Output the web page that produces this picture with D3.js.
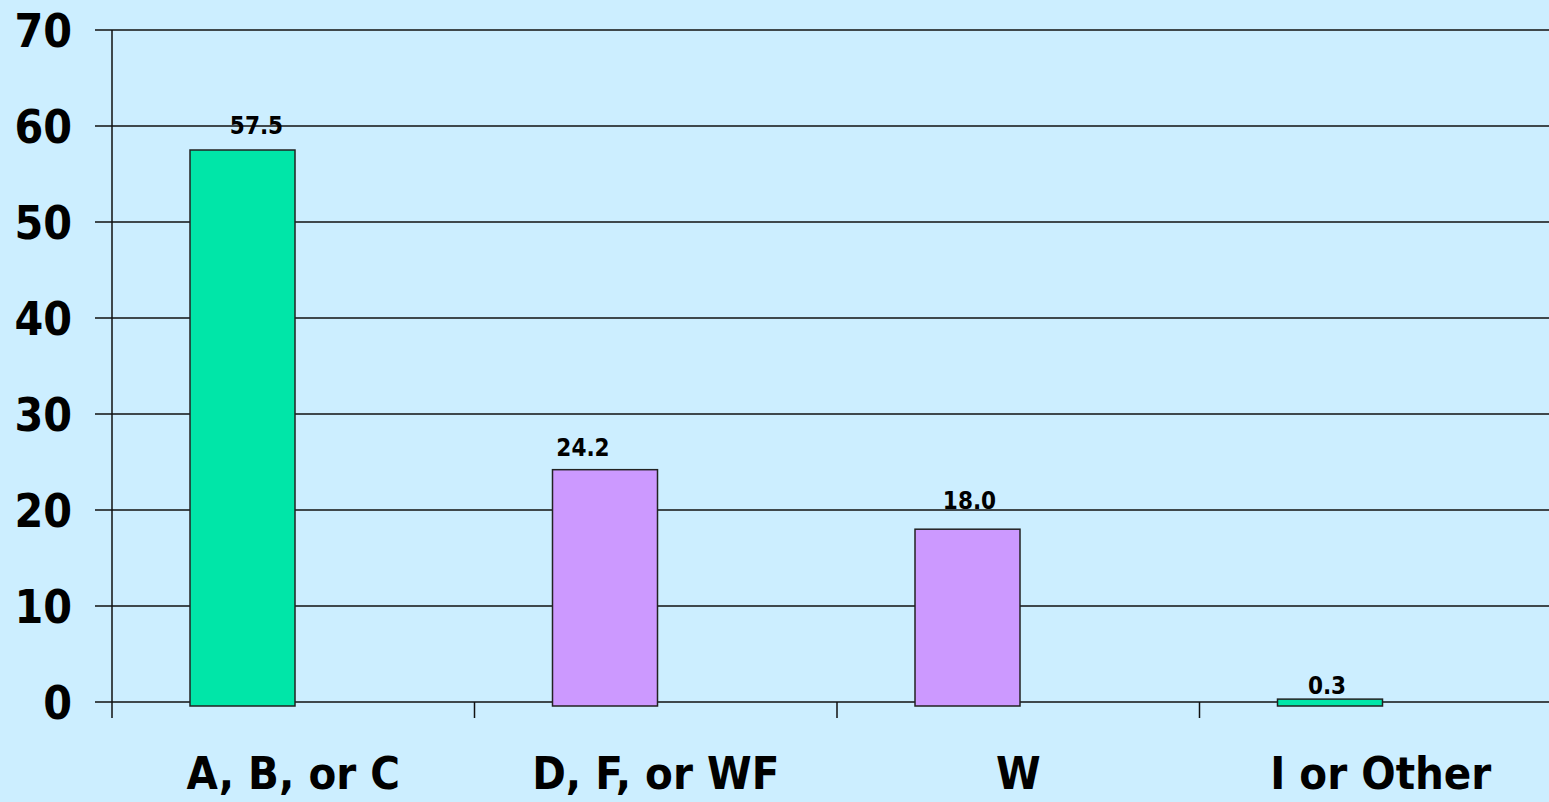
<!DOCTYPE html>
<html>
<head>
<meta charset="utf-8">
<script src="https://cdn.jsdelivr.net/npm/d3@7"></script>
<style>
  html, body { margin: 0; padding: 0; background: #cceeff; }
  svg { display: block; }
  text { font-family: "DejaVu Sans Condensed", "DejaVu Sans", Verdana, sans-serif; font-weight: bold; }
</style>
</head>
<body>
<div id="chart"></div>
<script>
// data
var categories = ["A, B, or C", "D, F, or WF", "W", "I or Other"]
var values = [57.5, 24.2, 18.0, 0.3]
var valueLabels = ["57.5", "24.2", "18.0", "0.3"]
var barColors = ["#00e6a8", "#cc99ff", "#cc99ff", "#00e6a8"]
var yTicks = [0, 10, 20, 30, 40, 50, 60, 70]

// label nudges as in the original slide
var labelDx = [14, -22, 2, -3]
var labelDy = [-16, -14, -20, -5]

var width = 1549
var height = 802

var svg = d3.select("#chart")
    .append("svg")
    .attr("width", width)
    .attr("height", height)

svg.append("rect")
    .attr("width", width)
    .attr("height", height)
    .attr("fill", "#cceeff")

var x = d3.scaleBand()
    .domain(categories)
    .range([112, 1562])
    .paddingInner(0)
    .paddingOuter(0)

var y = d3.scaleLinear()
    .domain([0, 70])
    .range([702, 30])

var barOffset = 78
var barWidth = 105

// gridlines
svg.append("g")
    .selectAll("line")
    .data(yTicks)
    .enter()
    .append("line")
    .attr("x1", 95)
    .attr("x2", width)
    .attr("y1", function(d) { return y(d) })
    .attr("y2", function(d) { return y(d) })
    .attr("stroke", "#111")
    .attr("stroke-width", 1.5)

// y axis line
svg.append("line")
    .attr("x1", 112).attr("x2", 112)
    .attr("y1", y(70)).attr("y2", y(0) + 16)
    .attr("stroke", "#111")
    .attr("stroke-width", 1.5)

// category ticks
svg.append("g")
    .selectAll("line")
    .data(categories.slice(1))
    .enter()
    .append("line")
    .attr("x1", function(d) { return x(d) })
    .attr("x2", function(d) { return x(d) })
    .attr("y1", y(0))
    .attr("y2", y(0) + 16)
    .attr("stroke", "#111")
    .attr("stroke-width", 1.5)

// y tick labels
svg.append("g")
    .selectAll("text")
    .data(yTicks)
    .enter()
    .append("text")
    .attr("x", 72)
    .attr("y", function(d) { return y(d) })
    .attr("dy", "0.36em")
    .attr("text-anchor", "end")
    .attr("font-size", 46)
    .attr("fill", "#000")
    .text(function(d) { return d })

// bars
svg.append("g")
    .selectAll("rect")
    .data(values)
    .enter()
    .append("rect")
    .attr("x", function(d, i) { return x(categories[i]) + barOffset })
    .attr("width", barWidth)
    .attr("y", function(d) { return y(d) })
    .attr("height", function(d) { return y(0) - y(d) + 4 })
    .attr("fill", function(d, i) { return barColors[i] })
    .attr("stroke", "#222")
    .attr("stroke-width", 1.5)

// value labels
svg.append("g")
    .selectAll("text")
    .data(values)
    .enter()
    .append("text")
    .attr("x", function(d, i) { return x(categories[i]) + barOffset + barWidth / 2 + labelDx[i] })
    .attr("y", function(d, i) { return y(d) + labelDy[i] })
    .attr("text-anchor", "middle")
    .attr("font-size", 24)
    .attr("fill", "#000")
    .text(function(d, i) { return valueLabels[i] })

// category labels
svg.append("g")
    .selectAll("text")
    .data(categories)
    .enter()
    .append("text")
    .attr("x", function(d) { return x(d) + x.bandwidth() / 2 })
    .attr("y", 789)
    .attr("text-anchor", "middle")
    .attr("font-size", 45)
    .attr("fill", "#000")
    .text(function(d) { return d })
</script>
</body>
</html>
